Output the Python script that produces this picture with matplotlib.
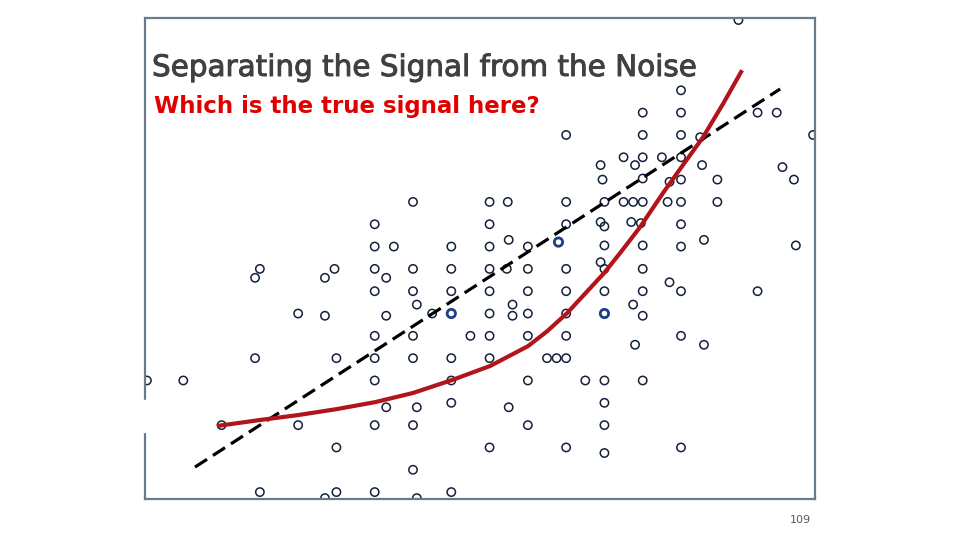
import matplotlib.pyplot as plt
import matplotlib.patheffects as pe
from matplotlib.patches import Rectangle

# scatter points (x in column units, y in row units)
pts_x = [0.1, 2.0, 4.0, 5.75, 6.0, 5.75, 6.0, 8.0, 8.0, 9.4, 9.9, 9.4, 10.0, 10.0, 10.0, 9.4,
         12.0, 12.0, 12.0, 12.0, 12.0, 12.0, 12.0, 12.0, 12.0,
         12.6, 12.6, 12.6, 13.0,
         14.0, 14.0, 14.0, 14.0, 14.0, 14.0, 14.0, 14.2, 14.2, 14.2,
         15.0,
         16.0, 16.0, 16.0, 16.0, 16.0, 16.0, 16.0,
         17.0,
         18.0, 18.0, 18.0, 18.0, 18.0, 18.0, 18.0, 18.0, 18.0,
         18.95, 19.0, 18.9, 19.2, 19.2, 19.0,
         20.0, 20.0, 20.0, 20.0, 20.0, 20.0, 20.0,
         21.0, 21.5,
         22.0, 22.0, 22.0, 22.0, 22.0, 22.0, 22.0, 22.0, 22.0,
         23.0,
         23.8, 23.9, 24.0, 23.8, 24.0, 24.0, 23.8, 24.0, 24.0, 24.0, 24.0, 24.0, 24.0,
         25.0, 25.0, 25.5, 25.4, 25.5, 25.6, 25.6,
         26.0, 26.0, 26.0, 26.0, 26.0, 25.9, 26.0, 26.0, 26.0, 26.0, 26.0,
         27.0, 27.4, 27.3, 27.4,
         28.0, 28.0, 28.0, 28.0, 28.0, 28.0, 28.0, 28.0, 28.0, 28.0, 28.0,
         29.0, 29.1, 29.2, 29.2,
         29.9, 29.9,
         31.0, 32.0, 32.0, 33.0, 33.3, 33.9, 34.0, 34.9]
pts_y = [5, 5, 3, 9.6, 10, 6, 0, 8, 3, 9.6, 10, 7.9, 6, 2, 0, -0.27,
         12, 11, 10, 9, 7, 6, 5, 3, 0,
         9.6, 7.9, 3.8, 11,
         13, 10, 9, 7, 6, 3, 1, 8.4, 3.8, -0.27,
         8,
         11, 10, 9, 6, 5, 4, 0,
         7,
         13, 12, 11, 10, 9, 8, 7, 6, 2,
         13, 11.3, 10, 8.4, 7.9, 3.8,
         11, 10, 9, 8, 7, 5, 3,
         6, 6,
         16, 13, 12, 10, 9, 8, 7, 6, 2,
         5,
         14.65, 14, 13, 12.1, 11.9, 11.05, 10.3, 10, 9, 5, 4, 3, 1.75,
         15, 13, 13, 12.1, 8.4, 6.6, 14.65,
         17, 16, 15, 14.05, 13, 12.05, 11.05, 10, 9, 7.9, 5,
         15, 13.9, 13, 9.4,
         18, 17, 16, 15, 14, 13, 12, 11, 9, 7, 2,
         15.9, 14.65, 11.3, 6.6,
         14, 13,
         21.15, 17, 9, 17, 14.56, 14, 11.05, 16]

# darker / blue looking points
blue_x = [16.0, 21.6, 24.0]
blue_y = [8, 11.2, 8]

# linear fit (dashed) end points
lin_x = [2.61, 33.18]
lin_y = [1.12, 18.06]

# curved fit (red)
curve_x = [3.76, 6.01, 8.0, 10.03, 12.02, 14.0, 16.04, 18.03, 20.01, 21.0, 22.05,
           23.0, 23.98, 24.9, 25.86, 27.06, 27.95, 29.15, 30.2, 31.19]
curve_y = [2.96, 3.23, 3.45, 3.72, 4.03, 4.44, 5.02, 5.65, 6.54, 7.2, 8.02,
           8.9, 9.81, 10.8, 11.87, 13.4, 14.47, 15.9, 17.4, 18.9]

fig = plt.figure(figsize=(9.6, 5.4), dpi=100)
ax = fig.add_axes([145 / 960, 1 - 499 / 540, 670 / 960, 481 / 540])
ax.set_xlim(0, 35)
ax.set_ylim(-0.31, 21.24)
ax.set_xticks([])
ax.set_yticks([])
for s in ax.spines.values():
    s.set_color('#6b7a8b')
    s.set_linewidth(1.6)

ax.scatter(pts_x, pts_y, s=36, facecolors='none', edgecolors='#14213a', linewidths=1.1, zorder=2)
ax.scatter(blue_x, blue_y, s=36, facecolors='none', edgecolors='#1d3f8a', linewidths=2.0, zorder=2)

ax.plot(lin_x, lin_y, color='black', lw=2.3, dashes=(4.5, 2.2), zorder=3)
ax.plot(curve_x, curve_y, color='#b2141b', lw=3.0, solid_capstyle='butt', zorder=4)

# little white gap in the left frame line
fig.patches.append(Rectangle((141 / 960, 1 - 432 / 540), 8 / 960, 32 / 540,
                             transform=fig.transFigure, color='white', zorder=5))

fig.text(152 / 960, 1 - 68 / 540, "Separating the Signal from the Noise",
         fontsize=21.2, color='#404040', va='center', ha='left', family='DejaVu Sans',
         path_effects=[pe.withStroke(linewidth=0.7, foreground='#404040')])
fig.text(154 / 960, 1 - 106 / 540, "Which is the true signal here?",
         fontsize=16.5, color='#e00000', fontweight='bold', va='center', ha='left',
         family='DejaVu Sans')
fig.text(800 / 960, 1 - 520 / 540, "109", fontsize=8, color='#595959', ha='center', va='center')

fig.savefig('out.png', dpi=100)
